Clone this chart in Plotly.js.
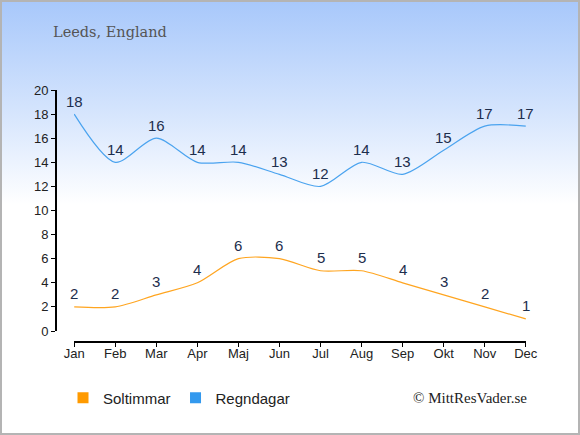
<!DOCTYPE html>
<html><head><meta charset="utf-8">
<script src="https://cdn.plot.ly/plotly-3.0.1.min.js"></script>
<style>
html,body{margin:0;padding:0;}
body{width:580px;height:435px;overflow:hidden;}
#wrap{position:absolute;left:0;top:0;width:576px;height:431px;border:2px solid #b4b4b4;
background:linear-gradient(to bottom,#a8c8fb 0%,#d4e4fd 25%,#ffffff 47%,#ffffff 100%);}
#chart{position:absolute;left:-2px;top:-2px;width:580px;height:435px;}
</style></head>
<body><div id="wrap"><div id="chart"></div></div>
<script>
const months = ["Jan","Feb","Mar","Apr","Maj","Jun","Jul","Aug","Sep","Okt","Nov","Dec"];
const soltimmar = [2,2,3,4,6,6,5,5,4,3,2,1];
const regndagar = [18,14,16,14,14,13,12,14,13,15,17,17];
const yTicks = [0,2,4,6,8,10,12,14,16,18,20];
const idx = months.map((m,i)=>i);
const W=580,H=435;
const labelFont = {family:"Liberation Sans, Arial, sans-serif", size:15, color:"#1d2e4d"};
const traces = [
 {x:idx, y:soltimmar, mode:"lines", line:{color:"#ffa520", width:1.2, shape:"spline", smoothing:0.8}, showlegend:false, hoverinfo:"none"},
 {x:idx, y:regndagar, mode:"lines", line:{color:"#4aa3ef", width:1.2, shape:"spline", smoothing:0.8}, showlegend:false, hoverinfo:"none"},
 {x:[null], y:[null], mode:"markers", name:"Soltimmar", marker:{symbol:"square", size:11, color:"#ff9a00"}, showlegend:true},
 {x:[null], y:[null], mode:"markers", name:"Regndagar", marker:{symbol:"square", size:11, color:"#3399ee"}, showlegend:true}
];
function labels(vals){
  return vals.map((v,i)=>({x:i, y:v, xref:"x", yref:"y", text:String(v), showarrow:false,
    xanchor:"center", yanchor:"middle", yshift:13, font:labelFont}));
}
const tickFont = {family:"Liberation Sans, Arial, sans-serif", size:13, color:"#222"};
const layout = {
 width:W, height:H, margin:{l:0,r:0,t:0,b:0},
 paper_bgcolor:"rgba(0,0,0,0)", plot_bgcolor:"rgba(0,0,0,0)",
 xaxis:{domain:[74/W,526/W], range:[-0.005,11.005], anchor:"free", position:(H-341)/H,
  tickvals:idx, ticktext:months, ticks:"outside", ticklen:4, ticklabelstandoff:-4, tickcolor:"#000", showline:true, linecolor:"#000", linewidth:1.5,
  showgrid:false, zeroline:false, tickfont:tickFont, fixedrange:true},
 yaxis:{domain:[(H-331)/H,(H-90)/H], range:[0,20], anchor:"free", position:55/W,
  tickvals:yTicks, ticks:"outside", ticklen:4, tickcolor:"#000", showline:true, linecolor:"#000", linewidth:1.5,
  showgrid:false, zeroline:false, tickfont:tickFont, fixedrange:true},
 legend:{orientation:"h", x:63/W, y:(H-398)/H, xanchor:"left", yanchor:"middle", font:{family:"Liberation Sans, Arial, sans-serif", size:15, color:"#222"},
  bgcolor:"rgba(0,0,0,0)", itemwidth:30, tracegroupgap:0},
 annotations:[
  {text:"Leeds, England", xref:"paper", yref:"paper", x:51/W, y:(H-32)/H, xanchor:"left", yanchor:"middle", showarrow:false,
   font:{family:"DejaVu Serif, Liberation Serif, serif", size:14.5, color:"#555"}},
  {text:"© MittResVader.se", xref:"paper", yref:"paper", x:529/W, y:(H-398)/H, xanchor:"right", yanchor:"middle", showarrow:false,
   font:{family:"Liberation Serif, serif", size:15, color:"#222"}}
 ].concat(labels(soltimmar), labels(regndagar))
};
Plotly.newPlot("chart", traces, layout, {displayModeBar:false, staticPlot:true});
</script></body></html>
